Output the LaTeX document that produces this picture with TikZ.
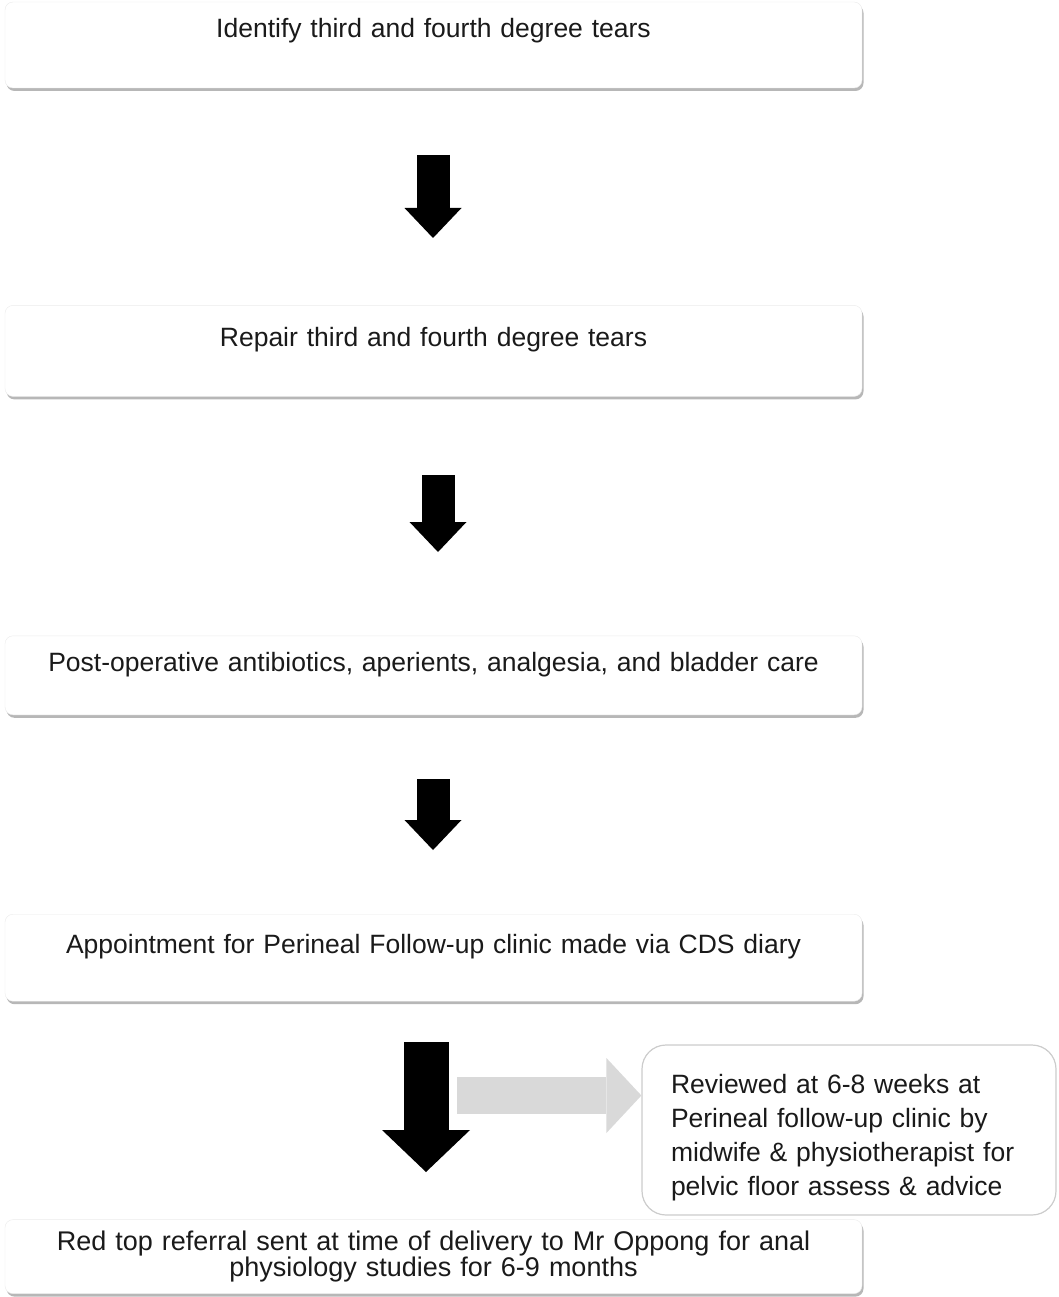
\documentclass[tikz,border=0pt]{standalone}
\usepackage{fontspec}
\setmainfont{Liberation Sans}
\usetikzlibrary{positioning,shadows,arrows.meta}
\definecolor{inkgrey}{HTML}{1A1A1A}
\definecolor{palegrey}{HTML}{D9D9D9}
\tikzset{x=1pt,y=1pt,
  stepbox/.style={rectangle,rounded corners=8pt,draw=black!8,fill=white,
    drop shadow={shadow xshift=1.5pt,shadow yshift=-3pt,opacity=.4,fill=black!70},
    minimum width=857pt,text width=845pt,align=center,inner xsep=6pt,inner ysep=0pt,
    font=\fontsize{26.5}{30}\selectfont,text=inkgrey,text height=19pt,text depth=27pt},
  lastbox/.style={stepbox,text height=,text depth=,font=\fontsize{27}{25}\selectfont},
  reviewbox/.style={rectangle,rounded corners=24pt,draw=black!20,line width=1.2pt,fill=white,
    minimum height=170pt,text width=356pt,inner xsep=29pt,align=left,
    font=\fontsize{26.5}{34}\selectfont,text=inkgrey},
  downarr/.style={line width=33pt,-{Triangle[length=30pt,width=57pt,line width=0pt]}},
  bigarr/.style={line width=45pt,-{Triangle[length=42pt,width=88pt,line width=0pt]}},
  sidearr/.style={palegrey,line width=37pt,-{Triangle[length=35pt,width=75pt,line width=0pt]}}
}
\begin{document}
\begin{tikzpicture}
    \useasboundingbox (0,0) rectangle (1058,-1297);
    \node[stepbox,minimum height=86pt,text depth=33pt] (s1) at (433.5,-45) {Identify third and fourth degree tears};
    \node[stepbox,minimum height=91pt] (s2) [below=217pt of s1] {Repair third and fourth degree tears};
    \node[stepbox,minimum height=79pt] (s3) [below=239pt of s2] {Post-operative antibiotics, aperients, analgesia, and bladder care};
    \node[stepbox,minimum height=87pt] (s4) [below=199pt of s3] {Appointment for Perineal Follow-up clinic made via CDS diary};
    \node[lastbox,minimum height=74pt] (s5) [below=218pt of s4] {Red top referral sent at time of delivery to Mr Oppong for anal\\physiology studies for 6-9 months};
    \node[reviewbox] (review) at (849,-1130) {\rule{0pt}{34pt}Reviewed at 6-8 weeks at\\Perineal follow-up clinic by\\midwife \& physiotherapist for\\pelvic floor assess \& advice};
    % arrows between the steps
    \coordinate (a1) at (433,-155);
    \coordinate (a2) at (438,-475);
    \coordinate (a3) at (433,-779);
    \coordinate (a4) at (426,-1042);
    \coordinate (g1) at (457,-1095.5);
    \draw[downarr] (a1) -- ++(0,-83);
    \draw[downarr] (a2) -- ++(0,-77);
    \draw[downarr] (a3) -- ++(0,-71);
    \draw[bigarr] (a4) -- ++(0,-130);
    \draw[sidearr] (g1) -- (g1 -| review.west);
\end{tikzpicture}
\end{document}
